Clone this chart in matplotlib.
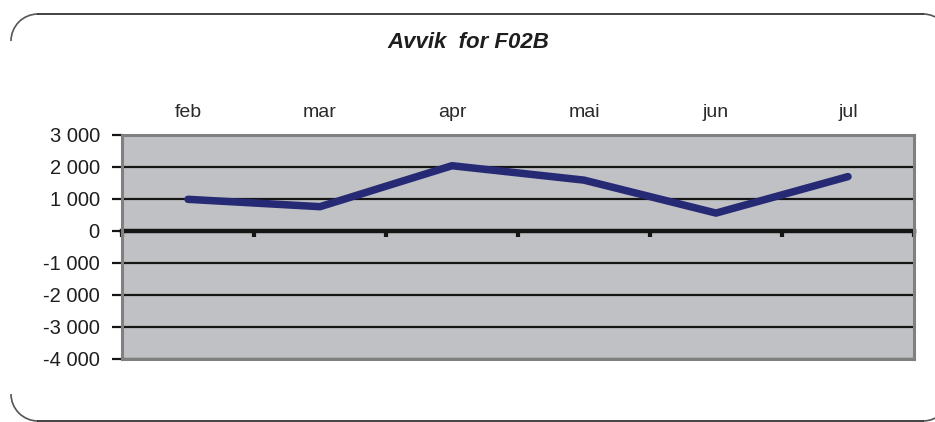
import matplotlib
matplotlib.use("Agg")
import matplotlib.pyplot as plt
from matplotlib.patches import Arc
from matplotlib.ticker import FuncFormatter, FixedLocator
import numpy as np

months = ["feb", "mar", "apr", "mai", "jun", "jul"]
values = [990, 760, 2040, 1590, 560, 1700]
yticks = [-4000, -3000, -2000, -1000, 0, 1000, 2000, 3000]
title = "Avvik  for F02B"

W, H = 935, 422
fig = plt.figure(figsize=(W / 100, H / 100), dpi=100)
fig.patch.set_facecolor("white")
plt.rcParams['font.family'] = ['Liberation Sans', 'DejaVu Sans']

# frame overlay (pixel coords, y measured from top -> converted)
ov = fig.add_axes([0, 0, 1, 1])
ov.set_xlim(0, W)
ov.set_ylim(0, H)
ov.axis("off")
def Y(v):
    return H - v
r = 27
L, R, T, B = 11, 950, 14, 421
fc = "#222222"
ac = "#555555"
ov.plot([L + r, R - r], [Y(T), Y(T)], color=fc, lw=1.2)
ov.plot([L + r, R - r], [Y(B), Y(B)], color=fc, lw=1.2)
ov.add_patch(Arc((L + r, Y(T + r)), 2 * r, 2 * r, theta1=90, theta2=180, color=ac, lw=1.2))
ov.add_patch(Arc((L + r, Y(B - r)), 2 * r, 2 * r, theta1=180, theta2=270, color=ac, lw=1.2))
ov.add_patch(Arc((R - r, Y(T + r)), 2 * r, 2 * r, theta1=0, theta2=90, color=ac, lw=1.2))
ov.add_patch(Arc((R - r, Y(B - r)), 2 * r, 2 * r, theta1=270, theta2=360, color=ac, lw=1.2))
ov.text(468, Y(42), title, ha="center", va="center", fontsize=16, fontweight="bold",
        fontstyle="italic", color="#1e1e1e")

ax = fig.add_axes([122 / W, 63 / H, (914 - 122) / W, 224 / H])
ax.set_facecolor("#C0C1C4")
x = np.arange(len(months))
ax.set_xlim(-0.5, len(months) - 0.5)
ax.set_ylim(-4000, 3000)

for yv in yticks:
    if yv != 0:
        ax.axhline(yv, color="#151515", lw=1.6, zorder=1)

ax.plot(x, values, color="#262A75", lw=5.4, solid_capstyle="round",
        solid_joinstyle="round", zorder=3)

for s in ["top", "right", "left"]:
    ax.spines[s].set_color("#808080")
    ax.spines[s].set_linewidth(2.2)
ax.spines["bottom"].set_position(("data", 0))
ax.spines["bottom"].set_color("#151515")
ax.spines["bottom"].set_linewidth(3.2)
ax.spines["bottom"].set_zorder(2)
ax.plot([0, 1], [0, 0], transform=ax.transAxes, color="#808080", lw=2.2, clip_on=False)

ax.set_xticks(x)
ax.set_xticklabels(months)
ax.xaxis.set_minor_locator(FixedLocator(np.arange(-0.5, len(months), 1.0)))
ax.tick_params(axis="x", which="major", bottom=False, labelbottom=False,
               top=False, labeltop=True, length=0, pad=10, labelsize=14,
               labelcolor="#2a2a2a")
ax.tick_params(axis="x", which="minor", bottom=True, direction="out",
               length=4, width=3, color="#151515")

ax.set_yticks(yticks)
ax.yaxis.set_major_formatter(FuncFormatter(
    lambda v, p: f"{int(v):,}".replace(",", " ")))
ax.tick_params(axis="y", which="major", direction="out", length=7, width=1.6,
               color="#151515", labelsize=14.5, labelcolor="#1e1e1e", pad=9)

fig.savefig("out.png", dpi=100)
